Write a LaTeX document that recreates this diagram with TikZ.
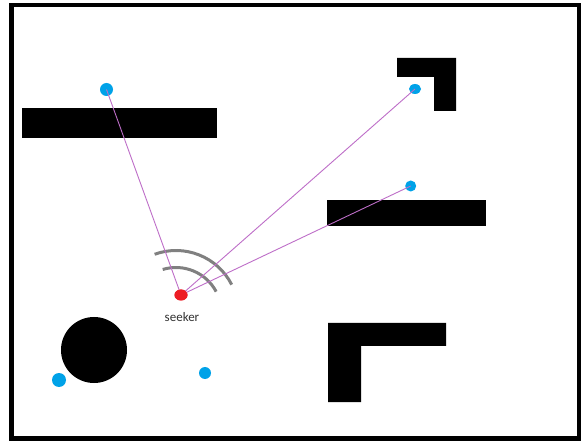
\documentclass[tikz,border=0pt]{standalone}
\usepackage{fontspec}
\setmainfont{Carlito}
\usetikzlibrary{shapes.geometric}
\begin{document}
\begin{tikzpicture}[x=1pt,y=-1pt,
  wall/.style={fill=black,draw=none},
  target/.style={fill=paintblue,draw=none},
  ray/.style={draw=raycol,line width=0.9pt},
  wave/.style={draw=wavegray,line width=3pt},
  lbl/.style={font=\fontsize{13}{15}\selectfont,text=black!80,inner sep=0pt}]
\definecolor{paintblue}{RGB}{0,162,232}
\definecolor{paintred}{RGB}{237,28,36}
\definecolor{raycol}{RGB}{190,110,200}
\definecolor{wavegray}{RGB}{128,128,128}
\useasboundingbox (0,0) rectangle (582,441);
\fill[white] (0,0) rectangle (582,441);
% frame
\draw[black,line width=4.5pt] (11.5,5) rectangle (579,438.5);
% walls
\fill[wall] (22,108) rectangle (217,138);
\fill[wall] (397,58) -- (456,58) -- (456,111) -- (434,111) -- (434,77) -- (397,77) -- cycle;
\fill[wall] (327,200) rectangle (486,226);
\fill[wall] (328,323) -- (446,323) -- (446,346) -- (361,346) -- (361,402) -- (328,402) -- cycle;
\fill[wall] (94,350) circle (33);
% targets
\node[target,ellipse,minimum width=13pt,minimum height=13pt,inner sep=0pt] (t1) at (106.5,89.5) {};
\node[target,ellipse,minimum width=12pt,minimum height=10pt,inner sep=0pt] (t2) at (415,89) {};
\node[target,ellipse,minimum width=11pt,minimum height=11pt,inner sep=0pt] (t3) at (410.7,186) {};
\node[target,circle,minimum size=14pt,inner sep=0pt] (t4) at (59,380) {};
\node[target,circle,minimum size=12pt,inner sep=0pt] (t5) at (205,373) {};
% seeker
\node[fill=paintred,ellipse,minimum width=13pt,minimum height=11pt,inner sep=0pt] (s) at (181,295) {};
\node[lbl] (slabel) at (182,317.5) {seeker};
% waves
\coordinate (wc) at (176,313);
\draw[wave] ([shift={(-110:62.5)}]wc) arc[start angle=-110,end angle=-27,radius=62.5];
\draw[wave] ([shift={(-107:45.5)}]wc) arc[start angle=-107,end angle=-28,radius=45.5];
% rays
\draw[ray] (s.center) -- (t1.center);
\draw[ray] (s.center) -- (t2.center);
\draw[ray] (s.center) -- (t3.center);
\node[fill=paintred,ellipse,minimum width=13pt,minimum height=11pt,inner sep=0pt] at (s) {};
\end{tikzpicture}
\end{document}
